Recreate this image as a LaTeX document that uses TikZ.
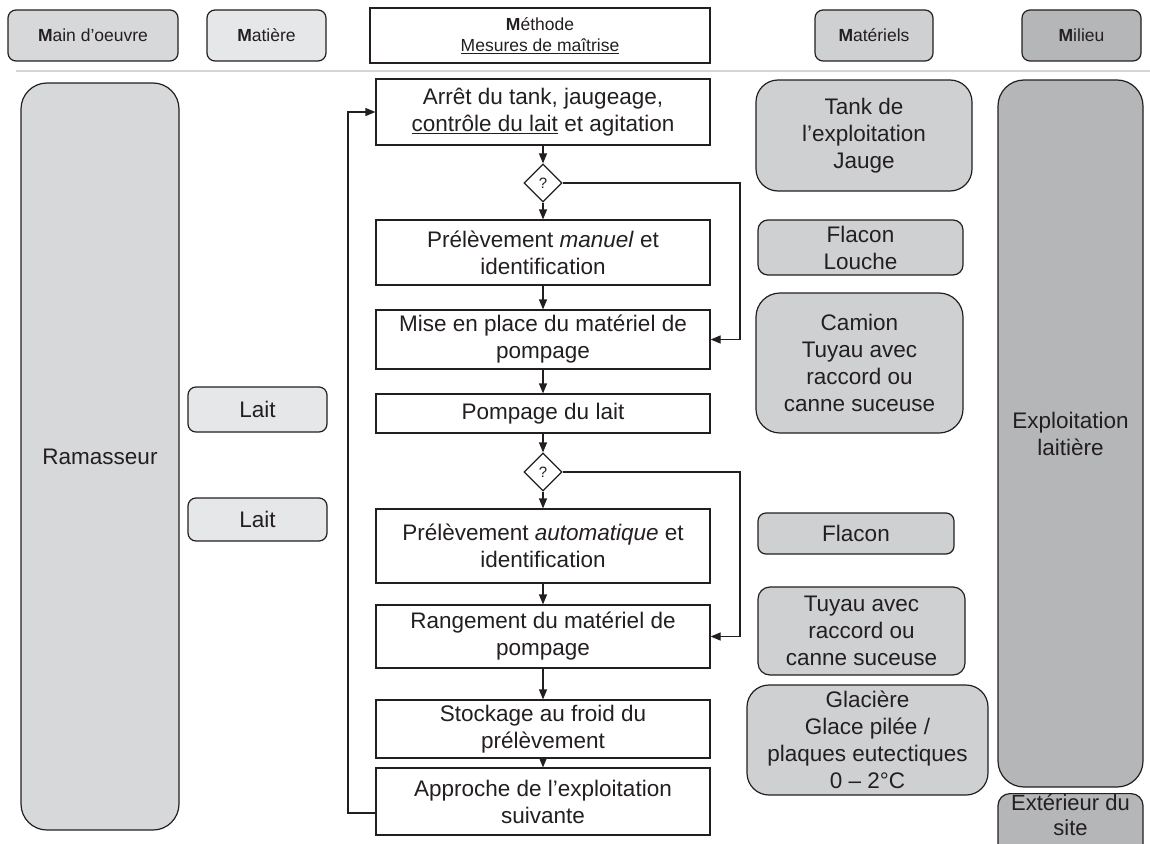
\documentclass[tikz,border=0pt]{standalone}
\usepackage{fontspec}
\setmainfont{Liberation Sans}
\usetikzlibrary{shapes.geometric,arrows.meta}
\definecolor{gA}{HTML}{D7D8DA}
\definecolor{gB}{HTML}{E6E7E8}
\definecolor{gC}{HTML}{CFD0D2}
\definecolor{gD}{HTML}{B5B6B8}
\definecolor{ln}{HTML}{231F20}
\definecolor{sepc}{HTML}{D4D4D4}
\begin{document}
\begin{tikzpicture}[x=1pt,y=-1pt,
  font=\fontsize{22.5}{27}\selectfont,
  base/.style={draw=ln, line width=1.2pt, align=center, inner sep=1pt, text=ln},
  hdr/.style={base, rounded corners=8pt, minimum height=51pt, font=\fontsize{17.5}{21}\selectfont},
  proc/.style={base, fill=white, minimum width=334pt},
  mat/.style={base, fill=gC},
  mil/.style={base, fill=gD, minimum width=145pt},
  qd/.style={draw=ln, line width=1.2pt, diamond, aspect=1, minimum width=38pt, minimum height=38pt, inner sep=0pt, fill=white, text=ln, font=\fontsize{15}{17}\selectfont},
  arr/.style={draw=ln, line width=1.2pt, -{Triangle[length=10pt,width=8pt]}}
]
\useasboundingbox (0,0) rectangle (1150,843);
\clip (0,0) rectangle (1150,843);
\fill[white] (0,0) rectangle (1150,843);

% headers
\node[hdr, fill=gA, minimum width=170pt] (h1) at (93,35.5) {\textbf{M}ain d'oeuvre};
\node[hdr, fill=gB, minimum width=119pt] (h2) at (266.5,35.5) {\textbf{M}atière};
\node[base, fill=white, minimum width=340pt, minimum height=55pt, font=\fontsize{17.5}{21}\selectfont] (h3) at (540,35.5) {\textbf{M}éthode\\\underline{Mesures de maîtrise}};
\node[hdr, fill=gC, minimum width=118pt] (h4) at (874,35.5) {\textbf{M}atériels};
\node[hdr, fill=gD, minimum width=119pt] (h5) at (1081.5,35.5) {\textbf{M}ilieu};

\coordinate (sl) at (16,71);
\coordinate (sr) at (1150,71);
\draw[sepc, line width=2pt] (sl) -- (sr);

% left columns
\node[base, fill=gA, rounded corners=26pt, minimum width=158pt, minimum height=747pt] (ram) at (100,456.5) {Ramasseur};
\node[base, fill=gB, rounded corners=8pt, minimum width=139pt, minimum height=45pt] (l1) at (257.5,409.5) {Lait};
\node[base, fill=gB, rounded corners=8pt, minimum width=139pt, minimum height=43pt] (l2) at (257.5,519.5) {Lait};

% process
\node[proc, minimum height=66pt] (a1) at (543,112) {Arrêt du tank, jaugeage,\\\underline{contrôle du lait} et agitation};
\node[qd] (d1) at (543,183) {?};
\node[proc, minimum height=65pt] (a2) at (543,252.5) {Prélèvement \textit{manuel} et\\identification};
\node[proc, minimum height=59pt] (a3) at (543,339.5) {Mise en place du matériel de\\pompage};
\node[proc, minimum height=39pt] (a4) at (543,413.5) {Pompage du lait};
\node[qd] (d2) at (543,472) {?};
\node[proc, minimum height=74pt] (a5) at (543,546) {Prélèvement \textit{automatique} et\\identification};
\node[proc, minimum height=63pt] (a6) at (543,636.5) {Rangement du matériel de\\pompage};
\node[proc, minimum height=58pt] (a7) at (543,729) {Stockage au froid du\\prélèvement};
\node[proc, minimum height=67pt] (a8) at (543,801.5) {Approche de l’exploitation\\suivante};

\draw[arr] (a1) -- (d1);
\draw[arr] (d1) -- (a2);
\draw[arr] (a2) -- (a3);
\draw[arr] (a3) -- (a4);
\draw[arr] (a4) -- (d2);
\draw[arr] (d2) -- (a5);
\draw[arr] (a5) -- (a6);
\draw[arr] (a6) -- (a7);
\draw[arr] (a7) -- (a8);

\coordinate (rc) at (740,0);
\draw[arr] (d1.east) -- (d1.east -| rc) |- (a3.east);
\draw[arr] (d2.east) -- (d2.east -| rc) |- (a6.east);

\coordinate (lb) at (348,813);
\coordinate (lt) at (348,112);
\draw[arr] ([yshift=-11.5pt]a8.west) -- (lb) -- (lt) -- (a1.west);

% materiels
\node[mat, rounded corners=22pt, minimum width=216pt, minimum height=111pt] (m1) at (864,135.5) {Tank de\\l’exploitation\\Jauge};
\node[mat, rounded corners=10pt, minimum width=205pt, minimum height=55pt, inner sep=0pt] (m2) at (860.5,247.5) {Flacon\\Louche};
\node[mat, rounded corners=24pt, minimum width=207pt, minimum height=140pt] (m3) at (859.5,363) {Camion\\Tuyau avec\\raccord ou\\canne suceuse};
\node[mat, rounded corners=8pt, minimum width=196pt, minimum height=41pt] (m4) at (856,533.5) {Flacon};
\node[mat, rounded corners=12pt, minimum width=207pt, minimum height=88pt] (m5) at (861.5,631) {Tuyau avec\\raccord ou\\canne suceuse};
\node[mat, rounded corners=22pt, minimum width=241pt, minimum height=110pt, inner sep=0pt] (m6) at (867.5,740) {Glacière\\Glace pilée /\\plaques eutectiques\\0 – 2°C};

% milieu
\node[mil, rounded corners=26pt, minimum height=707pt] (e1) at (1070.5,433.5) {Exploitation\\laitière};
\node[mil, rounded corners=12pt, minimum height=80pt, anchor=north] (e2) at (1070.5,793) {};
\node[text=ln, align=center, anchor=south, inner sep=0pt, font=\fontsize{22}{25}\selectfont] (e2t) at (1070.5,836) {Extérieur du\\site};
\end{tikzpicture}
\end{document}
